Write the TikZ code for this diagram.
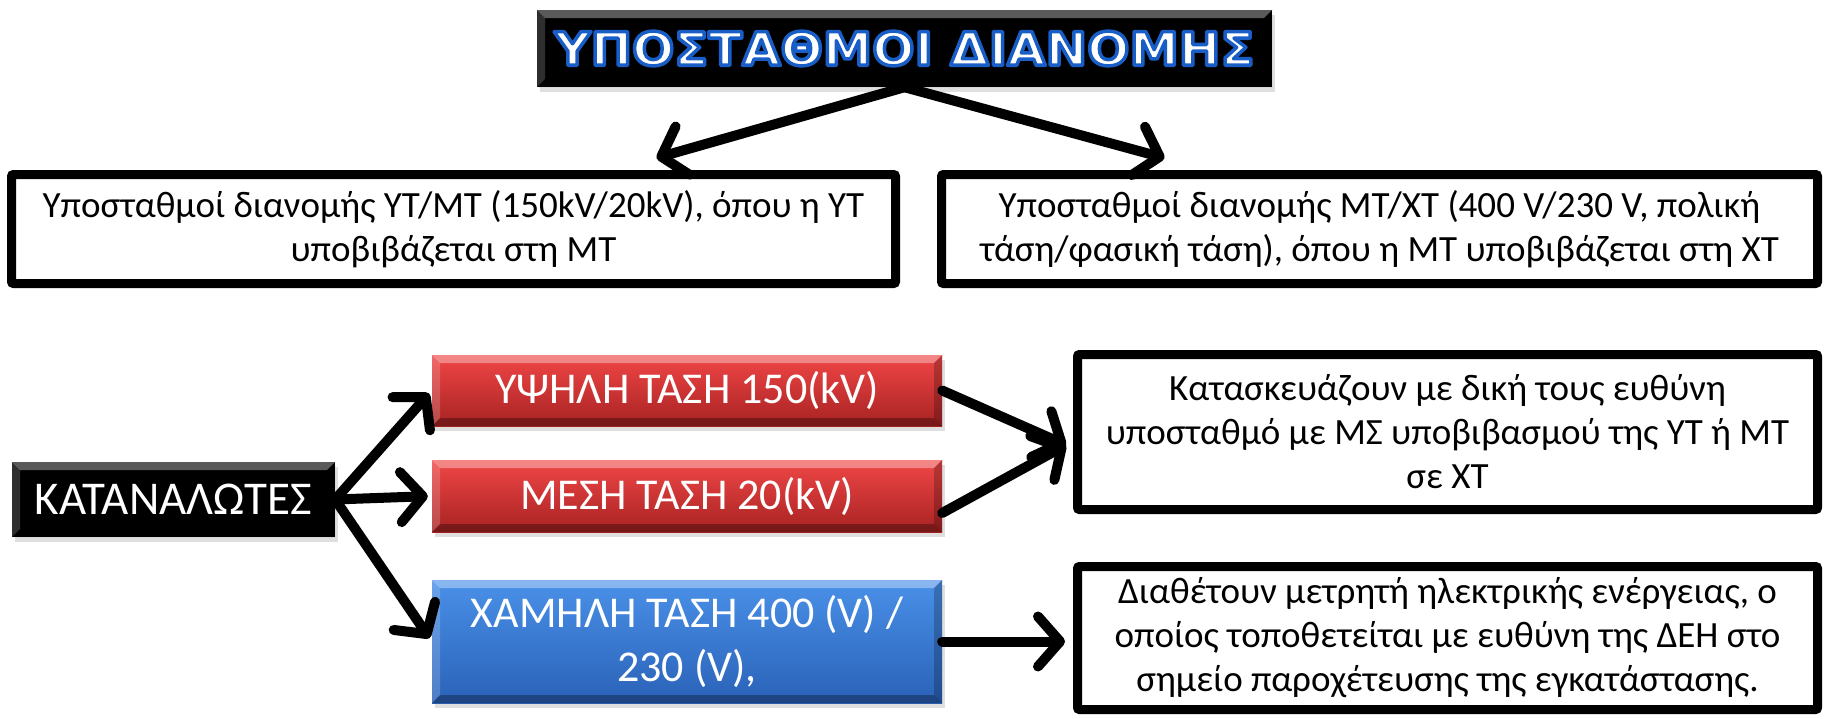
\documentclass[tikz,border=0pt]{standalone}
\usepackage{fontspec}
\setmainfont{Carlito}
\newfontfamily\titlefont{DejaVu Sans}[FakeStretch=1.08]
\usetikzlibrary{arrows.meta,shadows,calc}
\definecolor{redtop}{HTML}{F04646}
\definecolor{redbot}{HTML}{A82222}
\definecolor{bluetop}{HTML}{4A90E8}
\definecolor{bluebot}{HTML}{2A62B8}
\newcommand{\outlinedtext}[1]{\special{pdf:code q 2 Tr 3.5 w 1 j 0.10 0.37 0.78 RG}#1\special{pdf:code 0 Tr Q}}
\tikzset{
  bevel/.style={path picture={
    \path (path picture bounding box.north west) coordinate (bnw)
          (path picture bounding box.north east) coordinate (bne)
          (path picture bounding box.south west) coordinate (bsw)
          (path picture bounding box.south east) coordinate (bse);
    \fill[white,opacity=.35] (bnw) -- (bne) -- ([shift={(-#1,-#1)}]bne) -- ([shift={(#1,-#1)}]bnw) -- cycle;
    \fill[white,opacity=.18] (bnw) -- ([shift={(#1,-#1)}]bnw) -- ([shift={(#1,#1)}]bsw) -- (bsw) -- cycle;
    \fill[black,opacity=.22] (bne) -- ([shift={(-#1,-#1)}]bne) -- ([shift={(-#1,#1)}]bse) -- (bse) -- cycle;
    \fill[black,opacity=.3] (bsw) -- ([shift={(#1,#1)}]bsw) -- ([shift={(-#1,#1)}]bse) -- (bse) -- cycle;
  }},
  bevel/.default=8pt,
  shad/.style={drop shadow={opacity=.25, shadow xshift=3pt, shadow yshift=-5pt}},
  txtbox/.style={draw=black, line width=9pt, rounded corners=2pt, fill=white,
    align=center, inner sep=0pt, font=\fontsize{37}{44}\selectfont},
  darkbox/.style={fill=black, text=white, bevel, shad, inner sep=0pt, align=center},
  redbox/.style={top color=redtop, bottom color=redbot, text=white, bevel, shad,
    inner sep=0pt, align=center, minimum width=510pt, font=\fontsize{44}{52}\selectfont},
  bluebox/.style={top color=bluetop, bottom color=bluebot, text=white, bevel, shad,
    inner sep=0pt, align=center, minimum width=510pt, font=\fontsize{44}{54}\selectfont},
  arr/.style={draw=black, line width=10pt, line cap=round,
    -{Straight Barb[length=22pt,width=50pt,round]}}
}
\begin{document}
\begin{tikzpicture}[x=1pt,y=-1pt]
\useasboundingbox (0,0) rectangle (1826,718);
\fill[white] (0,0) rectangle (1826,718);

\node[darkbox, minimum width=735pt, minimum height=77pt] (title) at (904.5,48.5)
  {\titlefont\bfseries\fontsize{46}{54}\selectfont\outlinedtext{ΥΠΟΣΤΑΘΜΟΙ ΔΙΑΝΟΜΗΣ}};

\node[txtbox, minimum width=884pt, minimum height=109pt] (ul) at (453.5,229)
  {Υποσταθμοί διανομής ΥΤ/ΜΤ (150kV/20kV), όπου η ΥΤ\\υποβιβάζεται στη ΜΤ};
\node[txtbox, minimum width=876pt, minimum height=109pt] (ur) at (1379.5,229)
  {Υποσταθμοί διανομής ΜΤ/ΧΤ (400 V/230 V, πολική\\τάση/φασική τάση), όπου η ΜΤ υποβιβάζεται στη ΧΤ};

\node[darkbox, minimum width=323pt, minimum height=75pt, font=\fontsize{47}{54}\selectfont] (kat) at (173.5,499.5) {ΚΑΤΑΝΑΛΩΤΕΣ};

\node[redbox, minimum height=71pt] (red1) at (687,390.5) {ΥΨΗΛΗ ΤΑΣΗ 150(kV)};
\node[redbox, minimum height=72pt] (red2) at (687,496) {ΜΕΣΗ ΤΑΣΗ 20(kV)};
\node[bluebox, minimum height=123pt] (blue) at (687,641.5) {ΧΑΜΗΛΗ ΤΑΣΗ 400 (V) /\\230 (V),};

\node[txtbox, minimum width=740pt, minimum height=155pt] (r1) at (1447.5,432)
  {Κατασκευάζουν με δική τους ευθύνη\\υποσταθμό με ΜΣ υποβιβασμού της ΥΤ ή ΜΤ\\σε ΧΤ};
\node[txtbox, minimum width=740pt, minimum height=143pt] (r2) at (1447.5,638)
  {Διαθέτουν μετρητή ηλεκτρικής ενέργειας, ο\\οποίος τοποθετείται με ευθύνη της ΔΕΗ στο\\σημείο παροχέτευσης της εγκατάστασης.};

\draw[arr] (title.south) -- ($(ul.north)+(203,-12)$);
\draw[arr] (title.south) -- ($(ur.north)+(-215,-12)$);

\draw[arr, shorten >=4pt] (kat.east) -- (red1.west);
\draw[arr, shorten >=4pt] (kat.east) -- (red2.west);
\draw[arr, shorten >=4pt] (kat.east) -- (blue.west);

\draw[arr] (red1.east) -- ($(r1.west)+(-7,13)$);
\draw[arr] ($(red2.east)+(0,17)$) -- ($(r1.west)+(-7,13)$);
\draw[arr, shorten >=8pt] (blue.east) -- (blue.east -| r2.west);
\end{tikzpicture}
\end{document}
